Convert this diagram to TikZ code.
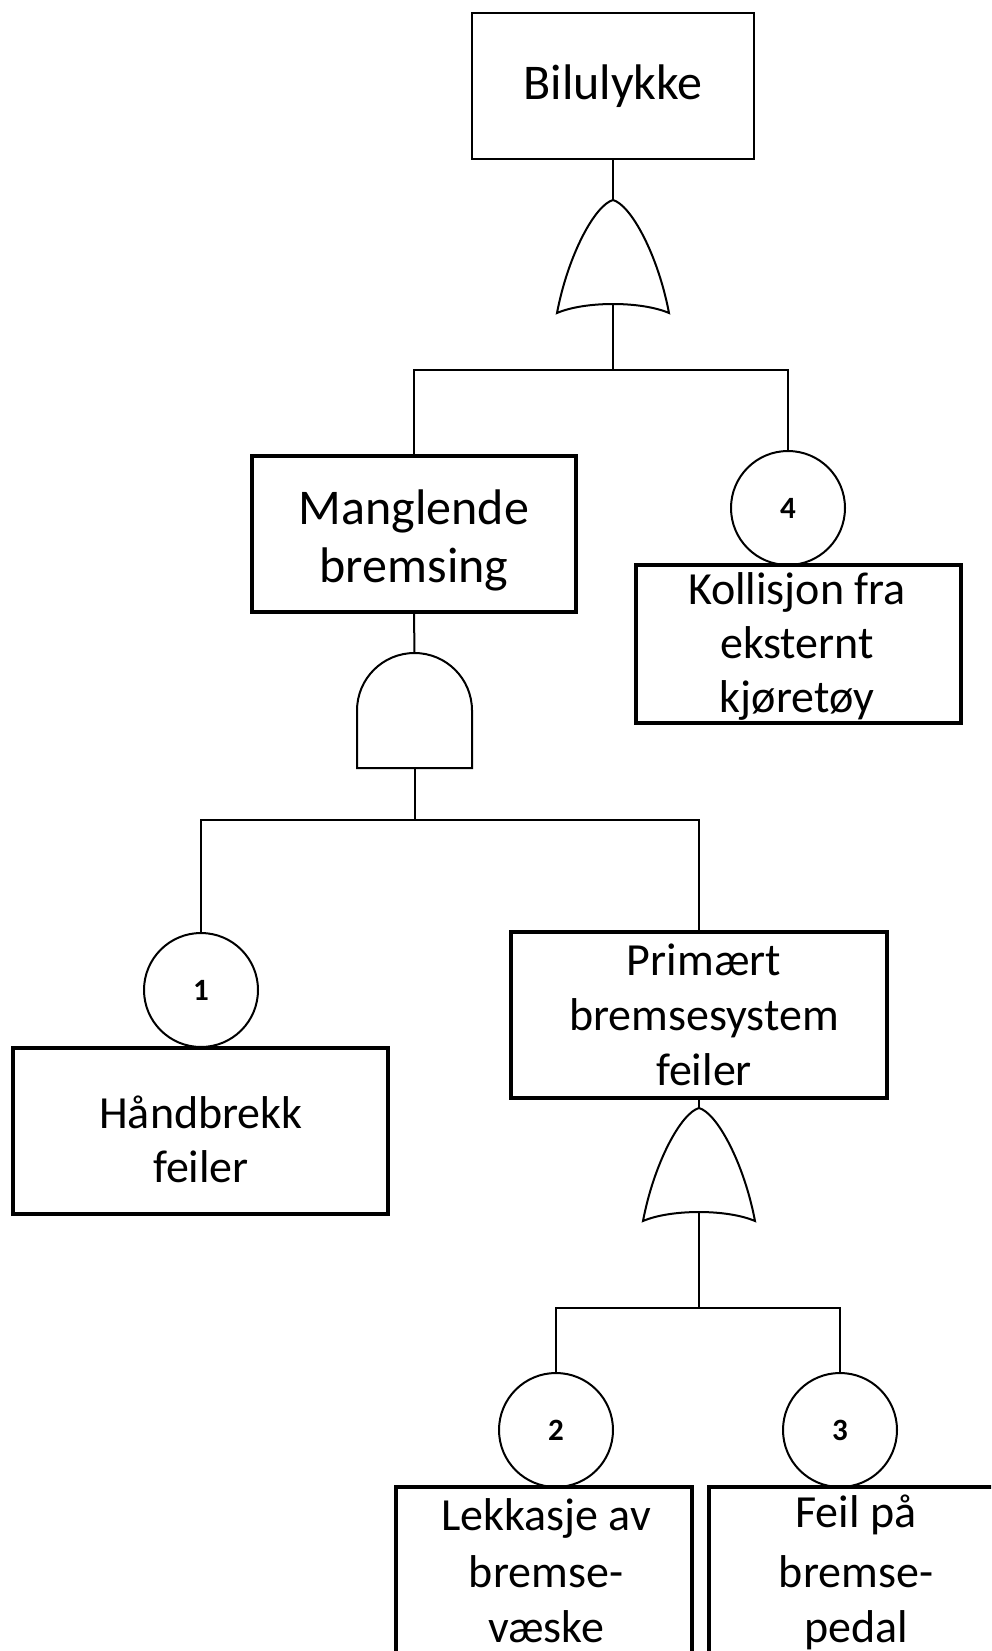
\documentclass[tikz,border=0pt]{standalone}
\usepackage{fontspec}
\setmainfont{Carlito}
\begin{document}
\begin{tikzpicture}[x=1pt,y=-1pt,
  conn/.style={line width=2pt, black},
  gateline/.style={line width=2pt, black},
  evbox/.style={draw, rectangle, line width=3.6pt, inner sep=0pt},
  topbox/.style={draw, rectangle, line width=2.6pt, inner sep=0pt},
  basic/.style={draw, circle, line width=2pt, minimum size=114pt, inner sep=0pt, font=\fontsize{31}{34}\selectfont\bfseries},
  lbl/.style={anchor=base, inner sep=0pt, font=\fontsize{46}{56}\selectfont},
  lblbig/.style={anchor=base, inner sep=0pt, font=\fontsize{50}{57}\selectfont},
  pics/orgate/.style={code={
    \draw[gateline] (-56,113) .. controls (-45,55) and (-18,5) .. (0,0)
       .. controls (18,5) and (45,55) .. (56,113)
       .. controls (28,101) and (-28,101) .. cycle;
    \coordinate (-top) at (0,0);
    \coordinate (-bot) at (0,104);
  }},
  pics/andgate/.style={code={
    \draw[gateline] (-57.5,115) -- (-57.5,57.5)
       .. controls (-57.5,25.74) and (-31.76,0) .. (0,0)
       .. controls (31.76,0) and (57.5,25.74) .. (57.5,57.5)
       -- (57.5,115) -- cycle;
    \coordinate (-top) at (0,0);
    \coordinate (-bot) at (0,115);
  }},
]
\useasboundingbox (0,0) rectangle (991,1651);
\fill[white] (0,0) rectangle (991,1651);
\clip (0,0) rectangle (991,1651);

% boxes
\node[topbox, minimum width=282pt, minimum height=146pt] (top) at (613,86) {};
\node[evbox, minimum width=324pt, minimum height=156pt] (mb) at (414,534) {};
\node[evbox, minimum width=325pt, minimum height=158pt] (kb) at (798.5,644) {};
\node[evbox, minimum width=375pt, minimum height=166pt] (hb) at (200.5,1131) {};
\node[evbox, minimum width=376pt, minimum height=166pt] (pb) at (699,1015) {};
\node[evbox, minimum width=296pt, minimum height=240pt] (lb) at (544,1607) {};
\node[evbox, minimum width=294pt, minimum height=240pt] (fb) at (856,1607) {};

% basic events
\node[basic] (c4) at (788,508) {4};
\node[basic] (c1) at (201,990) {1};
\node[basic] (c2) at (556,1430) {2};
\node[basic] (c3) at (840,1430) {3};

% gates
\pic (g1) at (613,200) {orgate};
\pic (g2) at (414.5,653) {andgate};
\pic (g3) at (699,1108) {orgate};

% junctions
\coordinate (j1) at (613,370);
\coordinate (j2) at (414.5,820);
\coordinate (j3) at (699,1308);

% connectors
\draw[conn] (top.south) -- (g1-top);
\draw[conn] (g1-bot) -- (j1);
\draw[conn] (j1) -| (mb.north);
\draw[conn] (j1) -| (c4.north);
\draw[conn] (mb.south) -- (g2-top);
\draw[conn] (g2-bot) -- (j2);
\draw[conn] (j2) -| (c1.north);
\draw[conn] (j2) -| (pb.north);
\draw[conn] (pb.south) -- (g3-top);
\draw[conn] (g3-bot) -- (j3);
\draw[conn] (j3) -| (c2.north);
\draw[conn] (j3) -| (c3.north);

% texts
\node[lblbig] (t0) at (613,100) {Bilulykke};
\node[lblbig] (t1a) at (414,524) {Manglende};
\node[lblbig] (t1b) at (414,582) {bremsing};
\node[lbl] (t2a) at (797,604) {Kollisjon fra};
\node[lbl] (t2b) at (797,658) {eksternt};
\node[lbl] (t2c) at (797,712) {kjøretøy};
\node[lbl] (t3a) at (201,1128) {Håndbrekk};
\node[lbl] (t3b) at (201,1182) {feiler};
\node[lbl] (t4a) at (704,975) {Primært};
\node[lbl] (t4b) at (704,1030) {bremsesystem};
\node[lbl] (t4c) at (704,1085) {feiler};
\node[lbl] (t5a) at (546,1530) {Lekkasje av};
\node[lbl] (t5b) at (546,1587) {bremse-};
\node[lbl] (t5c) at (546,1642) {væske};
\node[lbl] (t6a) at (856,1527) {Feil på};
\node[lbl] (t6b) at (856,1587) {bremse-};
\node[lbl] (t6c) at (856,1642) {pedal};
\end{tikzpicture}
\end{document}
